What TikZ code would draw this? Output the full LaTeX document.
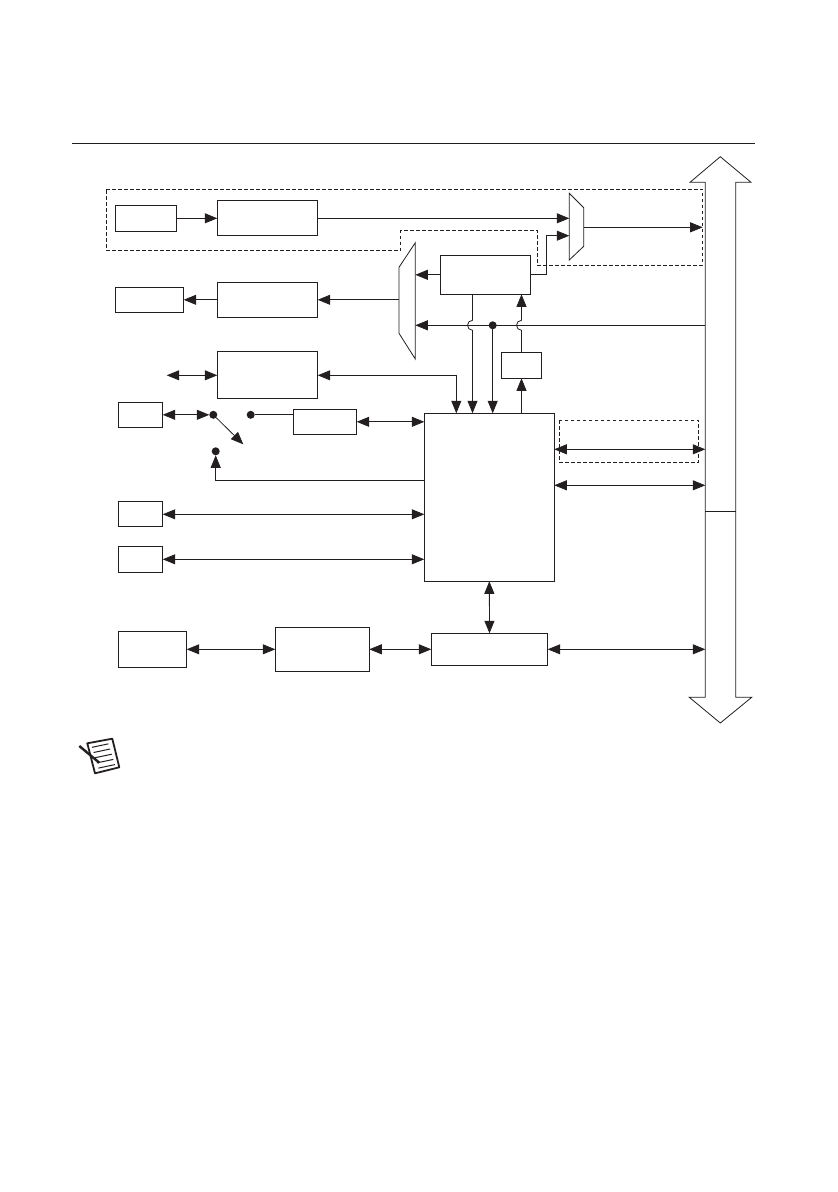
\documentclass[tikz,border=0pt]{standalone}
\usetikzlibrary{arrows.meta}
\definecolor{ink}{HTML}{231F20}
\tikzset{
    >={Triangle[length=12.5pt,width=10pt]},
    block/.style={draw=ink,line width=.8pt,inner sep=0pt,outer sep=0pt},
    wire/.style={draw=ink,line width=.8pt},
    fence/.style={draw=ink,line width=.8pt,dash pattern=on 3.5pt off 2.5pt},
    contact/.style={circle,fill=ink,inner sep=0pt,outer sep=0pt,minimum size=8pt}
}
\begin{document}
\begin{tikzpicture}[x=1pt,y=-1pt]
        \useasboundingbox (0,0) rectangle (838,1192);
        \coordinate (ruleL) at (72,143.3);
        \coordinate (ruleR) at (755,143.3);
        \draw[ink,line width=1pt] (ruleL) -- (ruleR);

        \draw[fence] (106.3,189.3) -- (702.7,189.3) -- (702.7,265) -- (537,265) -- (537,230.3) -- (400.7,230.3) -- (400.7,250.3) -- (106.3,250.3) -- cycle;
        \draw[fence] (559.3,420.3) rectangle (698.7,462.3);

        \draw[wire] (705.3,182.3) -- (690,182.3) -- (720.3,156.7) -- (751,182.3) -- (735.7,182.3) -- (735.7,697.3) -- (751.7,697.3) -- (720.3,723) -- (689.3,697.3) -- (705.3,697.3) -- cycle;
        \coordinate (busSplit) at (705.3,511);
        \draw[wire] (busSplit) -- (735.7,511);

        \node[block,minimum width=61.4pt,minimum height=26.4pt] (clkIn) at (146,218.3) {};
        \node[block,minimum width=100.4pt,minimum height=35pt] (filterA) at (267.5,218.3) {};
        \node[block,minimum width=68.4pt,minimum height=25pt] (clkOut) at (149.5,299.8) {};
        \node[block,minimum width=100.4pt,minimum height=35pt] (filterB) at (267.5,299.8) {};
        \node[block,minimum width=100.4pt,minimum height=47pt] (filterC) at (267.5,375.3) {};
        \node[block,minimum width=90.4pt,minimum height=39pt] (ctrl) at (485.5,274.8) {};
        \node[block,minimum width=40.4pt,minimum height=26pt] (buf) at (521.5,365.3) {};
        \node[block,minimum width=130pt,minimum height=168pt] (core) at (489.3,497.3) {};
        \node[block,minimum width=63.4pt,minimum height=25pt] (sync) at (325,421.8) {};
        \node[block,minimum width=44.4pt,minimum height=25pt] (portA) at (140.5,414.8) {};
        \node[block,minimum width=44.4pt,minimum height=25pt] (portB) at (140.5,514.3) {};
        \node[block,minimum width=44.4pt,minimum height=26pt] (portC) at (140.5,559.3) {};
        \node[block,minimum width=68.4pt,minimum height=36pt] (usbPort) at (152.5,649.3) {};
        \node[block,minimum width=94pt,minimum height=44pt] (phy) at (322.3,649.3) {};
        \node[block,minimum width=116.4pt,minimum height=32pt] (bridge) at (489.5,649.3) {};

        \node[contact] (swCommon) at (213.3,414.8) {};
        \node[contact] (swSync) at (250.7,414.8) {};
        \node[contact] (swCore) at (215.7,451.3) {};
        \node[contact] (tap) at (492.7,325.3) {};

        \draw[wire] (569.3,193.3) -- (583.7,207.7) -- (583.7,246.3) -- (569.3,260) -- cycle;
        \draw[wire] (415.3,242.7) -- (415.3,359) -- (399,333.3) -- (399,267.3) -- cycle;

        \coordinate (muxTopA) at (569.3,218.3);
        \coordinate (muxTopB) at (569.3,235.7);
        \coordinate (muxTopOut) at (583.7,227.3);
        \coordinate (muxTopEnd) at (702.7,227.3);
        \coordinate (muxLeftA) at (415.3,274.8);
        \coordinate (muxLeftB) at (415.3,325.3);
        \coordinate (muxLeftOut) at (399,299.8);
        \coordinate (busB) at (705.3,325.3);
        \coordinate (busC) at (705.3,449.3);
        \coordinate (busD) at (705.3,485.3);
        \coordinate (busE) at (705.3,649.3);
        \coordinate (hopA) at (472.5,325.3);
        \coordinate (hopB) at (521.5,325.3);
        \coordinate (swEnd) at (243.3,444.3);
        \coordinate (portEnd) at (166.7,375.3);
        \coordinate (dropC) at (456.3,413.3);
        \coordinate (riseTop) at (546.3,274.8);
        \coordinate (swWire) at (424.3,480.7);

        \draw[wire,->] (clkIn) -- (filterA);
        \draw[wire,->] (filterA) -- (muxTopA);
        \draw[wire,->] (ctrl.east) -- (riseTop) |- (muxTopB);
        \draw[wire,->] (muxTopOut) -- (muxTopEnd);
        \draw[wire,->] (ctrl.west) -- (muxLeftA);
        \draw[wire,->] (muxLeftOut) -- (filterB.east);
        \draw[wire,->] (filterB) -- (clkOut);
        \draw[wire,->] (busB) -- (muxLeftB);
        \draw[wire,<->] (portEnd) -- (filterC.west);
        \draw[wire,<->] (filterC.east) -| (dropC);
        \draw[wire,->] (hopA |- ctrl.south) -- ([yshift=5pt]hopA) arc [start angle=90, end angle=270, radius=5pt] -- (hopA |- core.north);
        \draw[wire,->] (tap) -- (tap |- core.north);
        \draw[wire,->] (buf.north) -- ([yshift=-5pt]hopB) arc [start angle=-90, end angle=-270, radius=5pt] -- (hopB |- ctrl.south);
        \draw[wire,->] (buf |- core.north) -- (buf.south);
        \draw[wire,<->] (portA.east) -- (swCommon.west);
        \draw[wire] (swSync) -- (sync.west |- swSync);
        \draw[wire,->] (swCommon) -- (swEnd);
        \draw[wire,<->] (sync.east) -- (core.west |- sync.east);
        \draw[wire,->] (swWire) -| (swCore.south);
        \draw[wire,<->] (portB.east) -- (core.west |- portB.east);
        \draw[wire,<->] (portC.east) -- (core.west |- portC.east);
        \draw[wire,<->] (core.east |- busC) -- (busC);
        \draw[wire,<->] (core.east |- busD) -- (busD);
        \draw[wire,<->] (core.south) -- (bridge.north);
        \draw[wire,<->] (usbPort) -- (phy);
        \draw[wire,<->] (phy) -- (bridge);
        \draw[wire,<->] (bridge.east) -- (busE);

        \draw[ink,line width=1.8pt,line join=round,fill=white] (87.3,743.3) -- (112.3,738.7) -- (119.3,767.3) -- (95,773.3) -- cycle;
        \foreach \i in {0,...,4} {
            \draw[ink,line width=1pt] (92+1.6*\i,747.3+5.2*\i) -- (108.5+1.6*\i,743.8+5.2*\i);
        }
        \draw[ink,line width=2.4pt] (79.3,746) -- (99.3,762.7);
    \end{tikzpicture}
\end{document}
